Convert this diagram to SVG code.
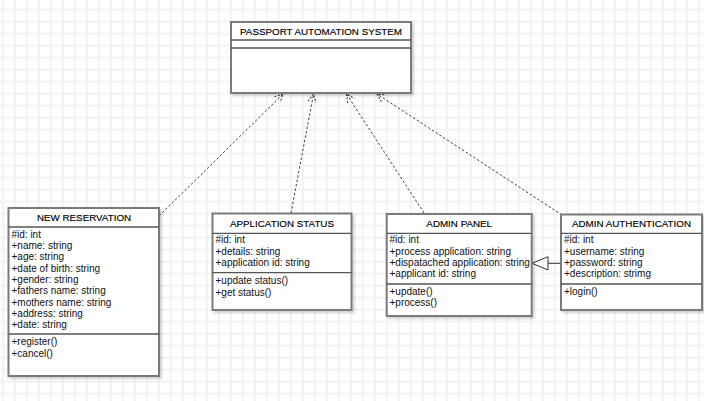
<svg xmlns="http://www.w3.org/2000/svg" width="704" height="401" viewBox="0 0 704 401">
<defs>
<pattern id="grid" x="-3" y="3.7" width="12" height="12" patternUnits="userSpaceOnUse">
<path d="M0,6 H12 M6,0 V12" stroke="#efefef" stroke-width="1.5" fill="none"/>
</pattern>
<filter id="sh" x="-10%" y="-10%" width="130%" height="130%">
<feDropShadow dx="2" dy="2" stdDeviation="1" flood-color="#000" flood-opacity="0.18"/>
</filter>
<marker id="open" markerWidth="12" markerHeight="12" refX="9" refY="5" orient="auto" markerUnits="userSpaceOnUse">
<path d="M1,1 L9,5 L1,9" fill="none" stroke="#333" stroke-width="1" stroke-dasharray="2 1.5"/>
</marker>
</defs>
<style>
.box{fill:#fff;stroke:#7a7a7a;stroke-width:2;filter:url(#sh)}
.sep{stroke:#555;stroke-width:1.3}
.title{font-family:"Liberation Sans",Arial,sans-serif;font-size:9.8px;fill:#000;stroke:#000;stroke-width:0.15;text-anchor:middle}
.attr{font-family:"Liberation Sans",Arial,sans-serif;font-size:10px;fill:#111}
.dep{fill:none;stroke:#444;stroke-width:1;stroke-dasharray:2.5 2;marker-end:url(#open)}
.gen{fill:none;stroke:#333;stroke-width:1}
</style>
<rect width="704" height="401" fill="#fff"/>
<rect width="704" height="401" fill="url(#grid)"/>

<g id="connectors">
<path class="dep" d="M159,216 L283,94"/>
<path class="dep" d="M291,213 L313.5,94"/>
<path class="dep" d="M424,213 L346.5,94"/>
<path class="dep" d="M562,215 L377,94"/>
<path class="gen" d="M561,263.3 L548,263.3"/>
<path class="gen" fill="#fff" d="M532,263.3 L548,256.7 L548,270 Z"/>
</g>

<g id="passport-automation-system">
<rect class="box" x="231" y="22" width="180" height="71"/>
<line class="sep" x1="231" y1="40" x2="411" y2="40"/>
<line class="sep" x1="231" y1="48" x2="411" y2="48"/>
<text class="title" x="321" y="35.3">PASSPORT AUTOMATION SYSTEM</text>
</g>

<g id="new-reservation">
<rect class="box" x="8.5" y="208" width="150.5" height="168"/>
<line class="sep" x1="8.5" y1="227" x2="159" y2="227"/>
<line class="sep" x1="8.5" y1="334" x2="159" y2="334"/>
<text class="title" x="84" y="220.8">NEW RESERVATION</text>
<text class="attr" x="11.5" y="237.5">#id: int</text>
<text class="attr" x="11.5" y="248.8">+name: string</text>
<text class="attr" x="11.5" y="260.1">+age: string</text>
<text class="attr" x="11.5" y="271.5">+date of birth: string</text>
<text class="attr" x="11.5" y="282.8">+gender: string</text>
<text class="attr" x="11.5" y="294.2">+fathers name: string</text>
<text class="attr" x="11.5" y="305.5">+mothers name: string</text>
<text class="attr" x="11.5" y="316.9">+address: string</text>
<text class="attr" x="11.5" y="328.2">+date: string</text>
<text class="attr" x="11.5" y="345.3">+register()</text>
<text class="attr" x="11.5" y="356.8">+cancel()</text>
</g>

<g id="application-status">
<rect class="box" x="212.5" y="213.5" width="139" height="96.5"/>
<line class="sep" x1="212.5" y1="233.3" x2="351.5" y2="233.3"/>
<line class="sep" x1="212.5" y1="272.7" x2="351.5" y2="272.7"/>
<text class="title" x="282" y="226.8">APPLICATION STATUS</text>
<text class="attr" x="215.5" y="243.2">#id: int</text>
<text class="attr" x="215.5" y="254.5">+details: string</text>
<text class="attr" x="215.5" y="265.8">+application id: string</text>
<text class="attr" x="215.5" y="284.3">+update status()</text>
<text class="attr" x="215.5" y="295.6">+get status()</text>
</g>

<g id="admin-panel">
<rect class="box" x="386.7" y="214" width="145" height="102"/>
<line class="sep" x1="386.7" y1="233.3" x2="531.7" y2="233.3"/>
<line class="sep" x1="386.7" y1="284" x2="531.7" y2="284"/>
<text class="title" x="459.2" y="226.8">ADMIN PANEL</text>
<text class="attr" x="389.5" y="243.2">#id: int</text>
<text class="attr" x="389.5" y="254.5">+process application: string</text>
<text class="attr" x="389.5" y="265.8">+dispatached application: string</text>
<text class="attr" x="389.5" y="277.1">+applicant id: string</text>
<text class="attr" x="389.5" y="294.5">+update()</text>
<text class="attr" x="389.5" y="305.8">+process()</text>
</g>

<g id="admin-authentication">
<rect class="box" x="561" y="214.5" width="141" height="95.5"/>
<line class="sep" x1="561" y1="233.3" x2="702" y2="233.3"/>
<line class="sep" x1="561" y1="284" x2="702" y2="284"/>
<text class="title" x="631.5" y="226.8">ADMIN AUTHENTICATION</text>
<text class="attr" x="564" y="243.2">#id: int</text>
<text class="attr" x="564" y="254.5">+username: string</text>
<text class="attr" x="564" y="265.8">+password: string</text>
<text class="attr" x="564" y="277.1">+description: strimg</text>
<text class="attr" x="564" y="295">+login()</text>
</g>
</svg>
